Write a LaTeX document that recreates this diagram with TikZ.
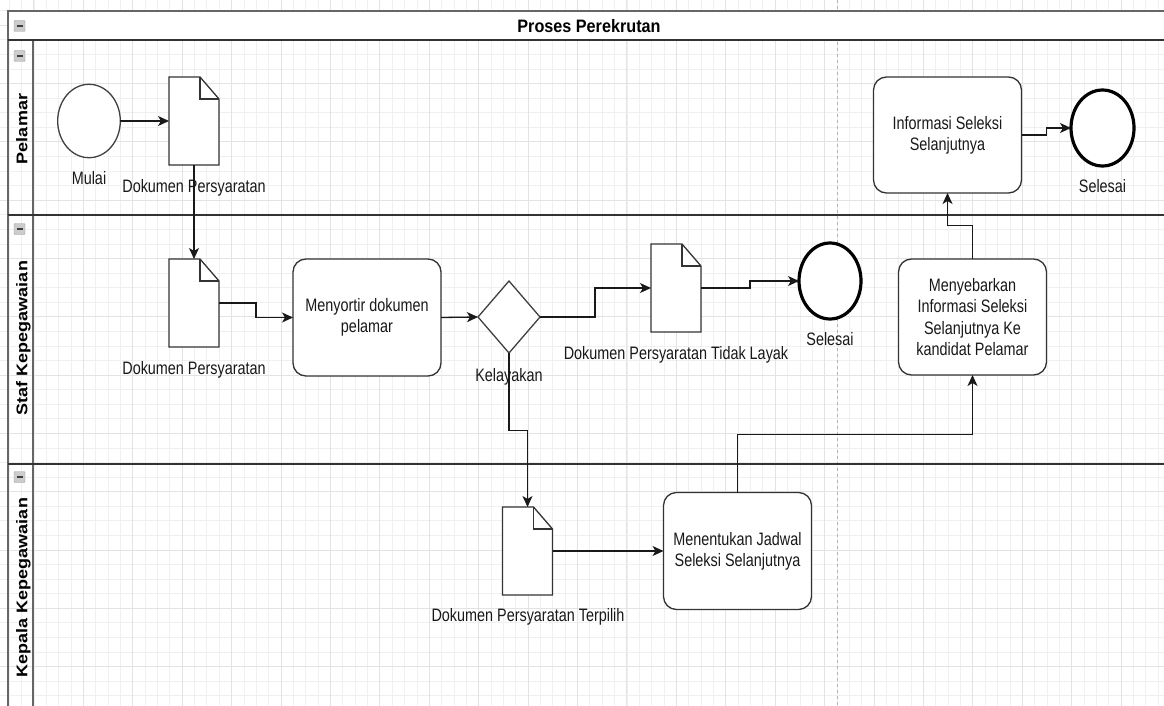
\documentclass[tikz,border=0pt]{standalone}
\usepackage{fontspec}
\setmainfont{Liberation Sans}
\newfontfamily\narrowfont[FakeStretch=0.8]{Liberation Sans}
\newfontfamily\titlefont[FakeStretch=0.9]{Liberation Sans}
\usetikzlibrary{shapes.geometric,arrows.meta}
\newcommand{\docoutline}[1]{%
  \draw[docline,fill=white] (#1.north west) -- ([xshift=-19pt]#1.north east) -- ([yshift=-22pt]#1.north east) -- (#1.south east) -- (#1.south west) -- cycle;
  \draw[docline] ([xshift=-19pt]#1.north east) -- ([xshift=-19pt,yshift=-22pt]#1.north east) -- ([yshift=-22pt]#1.north east);}
\begin{document}
\begin{tikzpicture}[x=1pt,y=-1pt,
  every node/.style={font=\narrowfont\fontsize{18}{21.2}\selectfont, text=black!90},
  gridminor/.style={draw=black!6, line width=0.8pt},
  gridmajor/.style={draw=black!11, line width=0.9pt},
  doc/.style={rectangle, minimum width=50pt, minimum height=88pt, inner sep=0pt, outer sep=0pt},
  docline/.style={draw=black!80, line width=1.3pt, line join=miter},
  task/.style={rectangle, rounded corners=13pt, draw=black!80, line width=1.3pt, fill=white, minimum width=148pt, minimum height=117pt, align=center, inner sep=2pt, outer sep=0pt},
  startev/.style={ellipse, draw=black!75, line width=1.3pt, fill=white, inner sep=0pt, outer sep=0pt},
  endev/.style={ellipse, draw=black, line width=3.2pt, fill=white, inner sep=0pt, outer sep=0pt},
  gate/.style={diamond, draw=black!75, line width=1.3pt, fill=white, minimum width=62pt, minimum height=72pt, inner sep=0pt, outer sep=0pt},
  conn/.style={draw=black!90, line width=1.3pt, -{Stealth[length=11pt,width=10pt,inset=3pt]}},
  lbl/.style={anchor=base},
  lanelbl/.style={rotate=90, anchor=base, font=\normalfont\bfseries\fontsize{18}{21}\selectfont, text=black},
  minusbox/.style={rectangle, minimum width=11pt, minimum height=11pt, inner sep=0pt, draw=gray!75, fill=gray!40, rounded corners=1pt,
    path picture={\draw[black!75,line width=1.4pt] ([xshift=-3pt]path picture bounding box.center) -- ([xshift=3pt]path picture bounding box.center);}},
  poolline/.style={draw=black!60, line width=1.6pt},
  laneline/.style={draw=black!80, line width=2pt}
]
\useasboundingbox (0,0) rectangle (1164,706);
\fill[white] (0,0) rectangle (1164,706);
% grid
\foreach \k in {-2,...,91} { \draw[gridminor] ({33.9+12.355*\k},0) -- ++(0,706); }
\foreach \k in {-1,...,46} { \draw[gridminor] (0,{25.3+14.575*\k}) -- ++(1164,0); }
\foreach \k in {0,...,22} { \draw[gridmajor] ({33.9+49.42*\k},0) -- ++(0,706); }
\foreach \k in {0,...,11} { \draw[gridmajor] (0,{25.3+58.3*\k}) -- ++(1164,0); }
\draw[black!30, line width=0.9pt, dash pattern=on 3pt off 3pt] (837,0) -- (837,706);
% pool
\fill[white] (8,11) rectangle (1164,40);
\draw[poolline] (1164,11) -- (8,11) -- (8,706);
\draw[poolline] (33,40) -- (33,706);
\draw[laneline] (8,40) -- (1164,40);
\draw[laneline] (8,214.5) -- (1164,214.5);
\draw[laneline] (8,463.5) -- (1164,463.5);
\node[anchor=base, font=\titlefont\bfseries\fontsize{18}{21}\selectfont, text=black] (title) at (589,32.3) {Proses Perekrutan};
\node[minusbox] (m0) at (19.5,26) {};
\node[minusbox] (m1) at (19.5,56) {};
\node[minusbox] (m2) at (19.5,229) {};
\node[minusbox] (m3) at (19.5,477) {};
\node[lanelbl] (lane1) at (27.3,129) {\scalebox{1}[0.86]{Pelamar}};
\node[lanelbl] (lane2) at (27.3,338) {\scalebox{1}[0.86]{Staf Kepegawaian}};
\node[lanelbl] (lane3) at (27.3,587.5) {\scalebox{1}[0.86]{Kepala Kepegawaian}};
% nodes
\node[startev, minimum width=62.6pt, minimum height=73.4pt] (mulai) at (89,121) {};
\node[lbl] (lmulai) at (89,184) {Mulai};
\node[doc] (doc1) at (194,121) {};
\docoutline{doc1}
\node[lbl] (ldoc1) at (194,192.7) {Dokumen Persyaratan};
\node[doc] (doc2) at (194,303) {};
\docoutline{doc2}
\node[lbl] (ldoc2) at (194,374.3) {Dokumen Persyaratan};
\node[task] (sort) at (367,317.5) {Menyortir dokumen\\pelamar};
\node[gate] (gate) at (509,317) {};
\node[lbl] (lgate) at (509,381) {Kelayakan};
\node[doc] (doc3) at (676,288) {};
\docoutline{doc3}
\node[lbl] (ldoc3) at (676,359.3) {Dokumen Persyaratan Tidak Layak};
\node[endev, minimum width=62pt, minimum height=76pt] (sel1) at (830,281) {};
\node[lbl] (lsel1) at (830,345) {Selesai};
\node[doc] (doc4) at (527.5,551) {};
\docoutline{doc4}
\node[lbl] (ldoc4) at (528,621.7) {Dokumen Persyaratan Terpilih};
\node[task] (jad) at (737.5,551) {Menentukan Jadwal\\Seleksi Selanjutnya};
\node[task, minimum height=116pt] (seb) at (972.5,317) {Menyebarkan\\Informasi Seleksi\\Selanjutnya Ke\\kandidat Pelamar};
\node[task, minimum height=116pt] (info) at (947.5,135) {Informasi Seleksi\\Selanjutnya};
\node[endev, minimum width=63pt, minimum height=76pt] (sel2) at (1102.5,128) {};
\node[lbl] (lsel2) at (1102.5,192.3) {Selesai};
% connectors
\draw[conn] (mulai.east) -- (doc1.west);
\draw[conn] (doc1.south) -- (doc2.north);
\draw[conn] (doc2.east) -- ++(37,0) |- (sort.west);
\draw[conn] (sort.east) -- (gate.west);
\draw[conn] (gate.east) -- ++(55,0) |- (doc3.west);
\draw[conn] (doc3.east) -- ++(49,0) |- (sel1.west);
\draw[conn] (gate.south) -- ++(0,77.5) -| (doc4.north);
\draw[conn] (doc4.east) -- (jad.west);
\draw[conn] (jad.north) -- ++(0,-58) -| (seb.south);
\draw[conn] (seb.north) -- ++(0,-33.5) -| (info.south);
\draw[conn] (info.east) -- ++(25,0) |- (sel2.west);
\end{tikzpicture}
\end{document}
